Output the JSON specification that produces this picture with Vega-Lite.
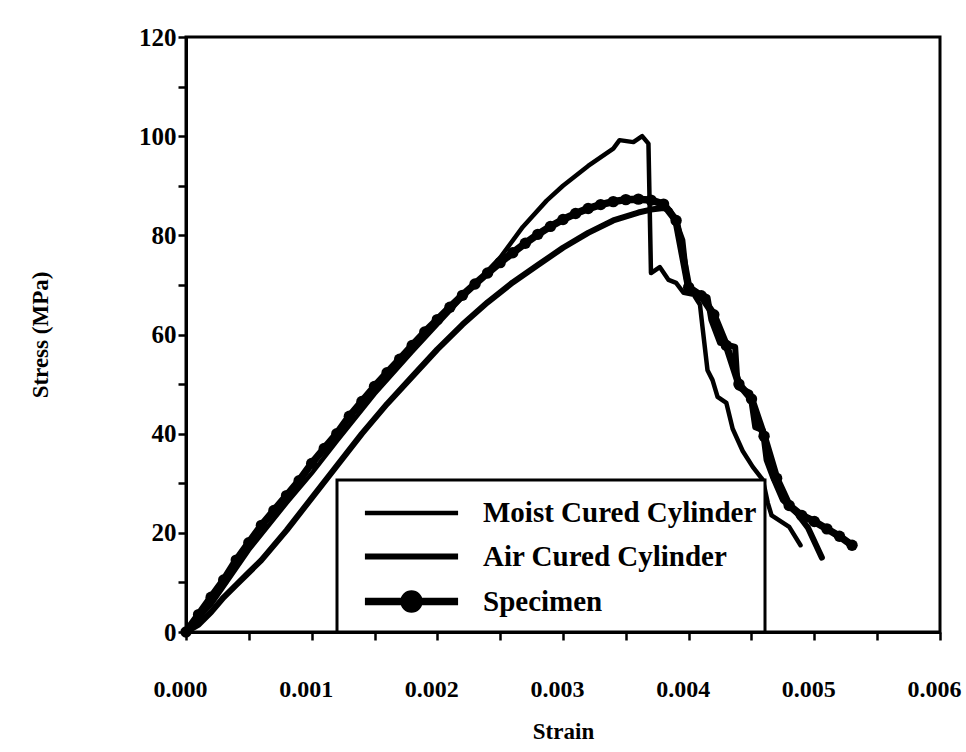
{
  "$schema": "https://vega.github.io/schema/vega-lite/v6.json",
  "width": 754,
  "height": 595,
  "autosize": {"type": "none"},
  "padding": {"left": 186, "top": 37, "right": 26, "bottom": 120},
  "background": "white",
  "config": {
    "view": {"stroke": "black", "strokeWidth": 3},
    "font": "Liberation Serif",
    "axis": {
      "domainColor": "black", "domainWidth": 3, "tickColor": "black", "tickWidth": 2.5, "tickSize": 8,
      "labelFont": "Liberation Serif", "labelFontWeight": "bold", "labelFontSize": 25, "labelColor": "black",
      "titleFont": "Liberation Serif", "titleFontWeight": "bold", "titleColor": "black", "grid": false
    }
  },
  "data": {"values": [
    {"series": "Moist Cured Cylinder", "strain": 0, "stress": 0},
    {"series": "Moist Cured Cylinder", "strain": 0.0002, "stress": 5.5},
    {"series": "Moist Cured Cylinder", "strain": 0.0005, "stress": 16.5},
    {"series": "Moist Cured Cylinder", "strain": 0.0008, "stress": 26},
    {"series": "Moist Cured Cylinder", "strain": 0.001, "stress": 32},
    {"series": "Moist Cured Cylinder", "strain": 0.0012, "stress": 38.5},
    {"series": "Moist Cured Cylinder", "strain": 0.0015, "stress": 48},
    {"series": "Moist Cured Cylinder", "strain": 0.0018, "stress": 56.5},
    {"series": "Moist Cured Cylinder", "strain": 0.002, "stress": 62},
    {"series": "Moist Cured Cylinder", "strain": 0.0022, "stress": 67.5},
    {"series": "Moist Cured Cylinder", "strain": 0.0025, "stress": 75.5},
    {"series": "Moist Cured Cylinder", "strain": 0.00268, "stress": 81.7},
    {"series": "Moist Cured Cylinder", "strain": 0.00287, "stress": 87},
    {"series": "Moist Cured Cylinder", "strain": 0.003, "stress": 90},
    {"series": "Moist Cured Cylinder", "strain": 0.0032, "stress": 94},
    {"series": "Moist Cured Cylinder", "strain": 0.0034, "stress": 97.5},
    {"series": "Moist Cured Cylinder", "strain": 0.00345, "stress": 99.2},
    {"series": "Moist Cured Cylinder", "strain": 0.00356, "stress": 98.8},
    {"series": "Moist Cured Cylinder", "strain": 0.00363, "stress": 100},
    {"series": "Moist Cured Cylinder", "strain": 0.00368, "stress": 98.5},
    {"series": "Moist Cured Cylinder", "strain": 0.0037, "stress": 72.4},
    {"series": "Moist Cured Cylinder", "strain": 0.00377, "stress": 73.6},
    {"series": "Moist Cured Cylinder", "strain": 0.00384, "stress": 71},
    {"series": "Moist Cured Cylinder", "strain": 0.0039, "stress": 70.4},
    {"series": "Moist Cured Cylinder", "strain": 0.00396, "stress": 68.4},
    {"series": "Moist Cured Cylinder", "strain": 0.00404, "stress": 68},
    {"series": "Moist Cured Cylinder", "strain": 0.00409, "stress": 66},
    {"series": "Moist Cured Cylinder", "strain": 0.00411, "stress": 61.5},
    {"series": "Moist Cured Cylinder", "strain": 0.00415, "stress": 52.8},
    {"series": "Moist Cured Cylinder", "strain": 0.00419, "stress": 50.8},
    {"series": "Moist Cured Cylinder", "strain": 0.00423, "stress": 47.4},
    {"series": "Moist Cured Cylinder", "strain": 0.0043, "stress": 46.2},
    {"series": "Moist Cured Cylinder", "strain": 0.00435, "stress": 41},
    {"series": "Moist Cured Cylinder", "strain": 0.00443, "stress": 36.5},
    {"series": "Moist Cured Cylinder", "strain": 0.00451, "stress": 33.3},
    {"series": "Moist Cured Cylinder", "strain": 0.00459, "stress": 30.7},
    {"series": "Moist Cured Cylinder", "strain": 0.00463, "stress": 26},
    {"series": "Moist Cured Cylinder", "strain": 0.00466, "stress": 23.5},
    {"series": "Moist Cured Cylinder", "strain": 0.0048, "stress": 21.2},
    {"series": "Moist Cured Cylinder", "strain": 0.00489, "stress": 17.5},
    {"series": "Air Cured Cylinder", "strain": 0, "stress": 0},
    {"series": "Air Cured Cylinder", "strain": 0.0001, "stress": 1.5},
    {"series": "Air Cured Cylinder", "strain": 0.0002, "stress": 4},
    {"series": "Air Cured Cylinder", "strain": 0.0003, "stress": 7},
    {"series": "Air Cured Cylinder", "strain": 0.0004, "stress": 9.5},
    {"series": "Air Cured Cylinder", "strain": 0.0005, "stress": 12},
    {"series": "Air Cured Cylinder", "strain": 0.0006, "stress": 14.5},
    {"series": "Air Cured Cylinder", "strain": 0.0008, "stress": 20.5},
    {"series": "Air Cured Cylinder", "strain": 0.001, "stress": 27},
    {"series": "Air Cured Cylinder", "strain": 0.0012, "stress": 33.5},
    {"series": "Air Cured Cylinder", "strain": 0.0014, "stress": 40},
    {"series": "Air Cured Cylinder", "strain": 0.0016, "stress": 46},
    {"series": "Air Cured Cylinder", "strain": 0.0018, "stress": 51.5},
    {"series": "Air Cured Cylinder", "strain": 0.002, "stress": 57},
    {"series": "Air Cured Cylinder", "strain": 0.0022, "stress": 62},
    {"series": "Air Cured Cylinder", "strain": 0.0024, "stress": 66.5},
    {"series": "Air Cured Cylinder", "strain": 0.0026, "stress": 70.5},
    {"series": "Air Cured Cylinder", "strain": 0.0028, "stress": 74},
    {"series": "Air Cured Cylinder", "strain": 0.003, "stress": 77.5},
    {"series": "Air Cured Cylinder", "strain": 0.0032, "stress": 80.5},
    {"series": "Air Cured Cylinder", "strain": 0.0034, "stress": 83},
    {"series": "Air Cured Cylinder", "strain": 0.0036, "stress": 84.6},
    {"series": "Air Cured Cylinder", "strain": 0.0037, "stress": 85.2},
    {"series": "Air Cured Cylinder", "strain": 0.0038, "stress": 85.5},
    {"series": "Air Cured Cylinder", "strain": 0.00385, "stress": 85},
    {"series": "Air Cured Cylinder", "strain": 0.0039, "stress": 82.5},
    {"series": "Air Cured Cylinder", "strain": 0.00395, "stress": 79},
    {"series": "Air Cured Cylinder", "strain": 0.00398, "stress": 72},
    {"series": "Air Cured Cylinder", "strain": 0.004, "stress": 69},
    {"series": "Air Cured Cylinder", "strain": 0.00415, "stress": 67.5},
    {"series": "Air Cured Cylinder", "strain": 0.00418, "stress": 63},
    {"series": "Air Cured Cylinder", "strain": 0.00425, "stress": 58.3},
    {"series": "Air Cured Cylinder", "strain": 0.00437, "stress": 57.5},
    {"series": "Air Cured Cylinder", "strain": 0.00439, "stress": 49.4},
    {"series": "Air Cured Cylinder", "strain": 0.00449, "stress": 48.2},
    {"series": "Air Cured Cylinder", "strain": 0.00453, "stress": 41.3},
    {"series": "Air Cured Cylinder", "strain": 0.00459, "stress": 40.7},
    {"series": "Air Cured Cylinder", "strain": 0.00462, "stress": 34.7},
    {"series": "Air Cured Cylinder", "strain": 0.00467, "stress": 31.3},
    {"series": "Air Cured Cylinder", "strain": 0.00475, "stress": 26.6},
    {"series": "Air Cured Cylinder", "strain": 0.00486, "stress": 24},
    {"series": "Air Cured Cylinder", "strain": 0.00495, "stress": 21},
    {"series": "Air Cured Cylinder", "strain": 0.00506, "stress": 15},
    {"series": "Specimen", "strain": 0, "stress": 0},
    {"series": "Specimen", "strain": 0.0001, "stress": 3.5},
    {"series": "Specimen", "strain": 0.0002, "stress": 7},
    {"series": "Specimen", "strain": 0.0003, "stress": 10.5},
    {"series": "Specimen", "strain": 0.0004, "stress": 14.5},
    {"series": "Specimen", "strain": 0.0005, "stress": 18},
    {"series": "Specimen", "strain": 0.0006, "stress": 21.5},
    {"series": "Specimen", "strain": 0.0007, "stress": 24.5},
    {"series": "Specimen", "strain": 0.0008, "stress": 27.5},
    {"series": "Specimen", "strain": 0.0009, "stress": 30.5},
    {"series": "Specimen", "strain": 0.001, "stress": 34},
    {"series": "Specimen", "strain": 0.0011, "stress": 37},
    {"series": "Specimen", "strain": 0.0012, "stress": 40},
    {"series": "Specimen", "strain": 0.0013, "stress": 43.5},
    {"series": "Specimen", "strain": 0.0014, "stress": 46.5},
    {"series": "Specimen", "strain": 0.0015, "stress": 49.5},
    {"series": "Specimen", "strain": 0.0016, "stress": 52.3},
    {"series": "Specimen", "strain": 0.0017, "stress": 55},
    {"series": "Specimen", "strain": 0.0018, "stress": 57.8},
    {"series": "Specimen", "strain": 0.0019, "stress": 60.5},
    {"series": "Specimen", "strain": 0.002, "stress": 63},
    {"series": "Specimen", "strain": 0.0021, "stress": 65.5},
    {"series": "Specimen", "strain": 0.0022, "stress": 67.9},
    {"series": "Specimen", "strain": 0.0023, "stress": 70.2},
    {"series": "Specimen", "strain": 0.0024, "stress": 72.4},
    {"series": "Specimen", "strain": 0.0025, "stress": 74.5},
    {"series": "Specimen", "strain": 0.0026, "stress": 76.5},
    {"series": "Specimen", "strain": 0.0027, "stress": 78.4},
    {"series": "Specimen", "strain": 0.0028, "stress": 80.2},
    {"series": "Specimen", "strain": 0.0029, "stress": 81.8},
    {"series": "Specimen", "strain": 0.003, "stress": 83.2},
    {"series": "Specimen", "strain": 0.0031, "stress": 84.4},
    {"series": "Specimen", "strain": 0.0032, "stress": 85.4},
    {"series": "Specimen", "strain": 0.0033, "stress": 86.2},
    {"series": "Specimen", "strain": 0.0034, "stress": 86.8},
    {"series": "Specimen", "strain": 0.0035, "stress": 87.2},
    {"series": "Specimen", "strain": 0.0036, "stress": 87.3},
    {"series": "Specimen", "strain": 0.0037, "stress": 87.1},
    {"series": "Specimen", "strain": 0.0038, "stress": 86.3},
    {"series": "Specimen", "strain": 0.0039, "stress": 83},
    {"series": "Specimen", "strain": 0.004, "stress": 69.5},
    {"series": "Specimen", "strain": 0.0041, "stress": 67.8},
    {"series": "Specimen", "strain": 0.0042, "stress": 64},
    {"series": "Specimen", "strain": 0.0043, "stress": 57.8},
    {"series": "Specimen", "strain": 0.0044, "stress": 50},
    {"series": "Specimen", "strain": 0.0045, "stress": 47},
    {"series": "Specimen", "strain": 0.0046, "stress": 39.5},
    {"series": "Specimen", "strain": 0.0047, "stress": 31},
    {"series": "Specimen", "strain": 0.0048, "stress": 25.5},
    {"series": "Specimen", "strain": 0.0049, "stress": 23.5},
    {"series": "Specimen", "strain": 0.005, "stress": 22.3},
    {"series": "Specimen", "strain": 0.0051, "stress": 20.8},
    {"series": "Specimen", "strain": 0.0052, "stress": 19.3},
    {"series": "Specimen", "strain": 0.0053, "stress": 17.5}
  ]},
  "encoding": {
    "x": {
      "field": "strain", "type": "quantitative",
      "scale": {"domain": [0, 0.006], "nice": false, "zero": false},
      "axis": {
        "title": "Strain", "titleFontSize": 23, "titlePadding": 19,
        "values": [0, 0.0005, 0.001, 0.0015, 0.002, 0.0025, 0.003, 0.0035, 0.004, 0.0045, 0.005, 0.0055, 0.006],
        "labelExpr": "round(datum.value * 2000) % 2 === 0 ? format(datum.value, '.3f') : ''",
        "labelFontSize": 24, "labelOffset": -6,
        "labelPadding": 37, "labelFlush": false, "labelOverlap": false
      }
    },
    "y": {
      "field": "stress", "type": "quantitative",
      "scale": {"domain": [0, 120], "nice": false},
      "axis": {
        "title": "Stress (MPa)", "titleFontSize": 23, "titlePadding": 86,
        "values": [0, 10, 20, 30, 40, 50, 60, 70, 80, 90, 100, 110, 120],
        "labelExpr": "datum.value % 20 === 0 ? datum.label : ''",
        "labelPadding": 2, "labelOverlap": false
      }
    }
  },
  "layer": [
    {
      "mark": {"type": "line", "strokeJoin": "round", "strokeCap": "round"},
      "encoding": {
        "color": {
          "field": "series", "type": "nominal",
          "scale": {"domain": ["Moist Cured Cylinder", "Air Cured Cylinder", "Specimen"], "range": ["black", "black", "black"]},
          "legend": {
            "title": null, "orient": "none", "legendX": 151, "legendY": 443, "direction": "vertical",
            "padding": 8, "strokeColor": "black", "fillColor": "white",
            "symbolType": "M-2.07,0H2.07", "symbolSize": 2025, "symbolOffset": 40, "labelOffset": 45,
            "labelFont": "Liberation Serif", "labelFontWeight": "bold", "labelFontSize": 29, "labelColor": "black",
            "labelLimit": 400, "rowPadding": 3,
            "encode": {
              "legend": {
                "update": {
                  "stroke": {"value": "black"},
                  "strokeWidth": {"value": 3},
                  "fill": {"value": "white"}
                }
              },
              "symbols": {
                "update": {
                  "shape": {"signal": "datum.value === 'Specimen' ? 'M-2.07,0H2.07M0.33,0A0.33,0.33,0,1,1,-0.33,0A0.33,0.33,0,1,1,0.33,0Z' : 'M-2.07,0H2.07'"},
                  "stroke": {"value": "black"},
                  "fill": {"signal": "datum.value === 'Specimen' ? 'black' : 'transparent'"},
                  "strokeWidth": {"signal": "datum.value === 'Air Cured Cylinder' ? 8 : 4.5"},
                  "opacity": {"value": 1}
                }
              }
            }
          }
        },
        "strokeWidth": {
          "field": "series", "type": "nominal",
          "scale": {"domain": ["Moist Cured Cylinder", "Air Cured Cylinder", "Specimen"], "range": [4.5, 7.5, 4.5]},
          "legend": null
        }
      }
    },
    {
      "transform": [{"filter": "datum.series === 'Specimen'"}],
      "mark": {"type": "point", "filled": true, "color": "black", "size": 130, "opacity": 1}
    }
  ]
}
